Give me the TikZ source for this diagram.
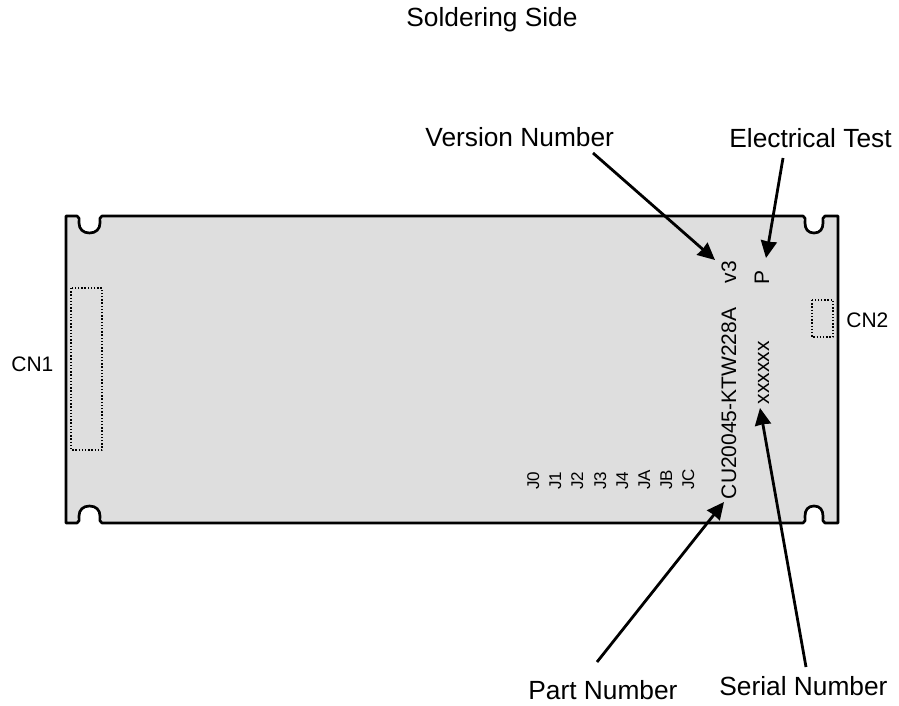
\documentclass[tikz,border=0pt]{standalone}
\usepackage{fontspec}
\setmainfont{Liberation Sans}
\usetikzlibrary{arrows.meta}
\tikzset{
    lbl/.style={inner sep=0pt,anchor=base west,font=\fontsize{13.15}{15}\selectfont},
    lblsmall/.style={inner sep=0pt,anchor=base west,font=\fontsize{10.5}{12}\selectfont},
    lblup/.style={lblsmall,rotate=90},
    jmp/.style={lblup,font=\fontsize{8.5}{10}\selectfont},
    conn/.style={draw,line width=.7pt,dash pattern=on .7pt off .9pt},
    pointer/.style={line width=1.4pt,-{Stealth[length=8.5pt,width=8pt,inset=.3pt]}}
}
\begin{document}
\begin{tikzpicture}[x=.5pt,y=-.5pt,line join=round]
    \useasboundingbox (0,0) rectangle (899,706);
    % board outline with the four notches
    \draw[fill=black!13,line width=1.35pt]
    (66,216)--(77,216)
    .. controls (80,217) and (79,219) .. (79,223)
    .. controls (79,229) and (83,233) .. (89.5,233)
    .. controls (96,233) and (100,229) .. (100,223)
    .. controls (100,219) and (99,217) .. (102,216)
    --(803,216)
    .. controls (806,217) and (805,219) .. (805,223)
    .. controls (805,229) and (808,233) .. (814,233)
    .. controls (820,233) and (823,229) .. (823,223)
    .. controls (823,219) and (822,217) .. (825,216)
    --(838,216)--(838,523)--(825,523)
    .. controls (822,522) and (823,520) .. (823,516)
    .. controls (823,510) and (820,506) .. (814,506)
    .. controls (808,506) and (805,510) .. (805,516)
    .. controls (805,520) and (806,522) .. (803,523)
    --(102,523)
    .. controls (99,522) and (100,520) .. (100,516)
    .. controls (100,510) and (96,506) .. (89.5,506)
    .. controls (83,506) and (79,510) .. (79,516)
    .. controls (79,520) and (80,522) .. (77,523)
    --(66,523)--cycle;
    \draw[conn] (71,288) rectangle (102,450);
    \draw[conn] (812,300) rectangle (833,337);
    % texts
    \node[lbl] (title) at (406,27) {Soldering Side};
    \node[lbl] (version) at (425,147) {Version Number};
    \node[lbl] (elect) at (729,148) {Electrical Test};
    \node[lbl] (part) at (528,699) {Part Number};
    \node[lbl] (serial) at (719,695) {Serial Number};
    \node[lblsmall] (cn1) at (11,371) {CN1};
    \node[lblsmall] (cn2) at (846,327) {CN2};
    \node[lblup] (v3) at (736,283.5) {v3};
    \node[lblup] (p) at (769,285) {P};
    \node[lblup] (partno) at (736,499.5) {CU20045-KTW228A};
    \node[lblup] (serialno) at (769,404.5) {xxxxxx};
    \foreach \n/\xx in {J0/539,J1/561,J2/583,J3/606,J4/628,JA/650,JB/672,JC/694}
        \node[jmp] (\n) at (\xx,490) {\n};
    % pointers
    \coordinate (verstart) at (593,153);
    \coordinate (elstart) at (783,158);
    \coordinate (partstart) at (597,662);
    \coordinate (serstart) at (806,667);
    \coordinate (vertip) at (715,260);
    \coordinate (eltip) at (766,258);
    \coordinate (parttip) at (724,502);
    \coordinate (sertip) at (760,408);
    \draw[pointer] (verstart)--(vertip);
    \draw[pointer] (elstart)--(eltip);
    \draw[pointer] (partstart)--(parttip);
    \draw[pointer] (serstart)--(sertip);
\end{tikzpicture}
\end{document}
